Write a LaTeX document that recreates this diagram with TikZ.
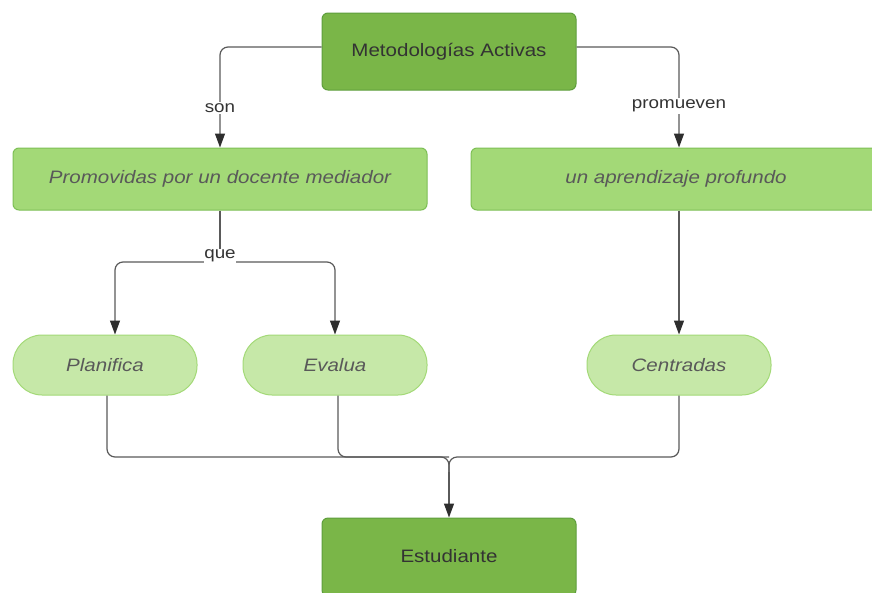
\documentclass[tikz,border=0pt]{standalone}
\usepackage{fontspec}
\setmainfont[FakeStretch=1.14]{Liberation Sans}
\usetikzlibrary{arrows.meta,calc}
\definecolor{dkgreen}{HTML}{7AB648}
\definecolor{dkborder}{HTML}{5E9E3C}
\definecolor{mdgreen}{HTML}{A3D977}
\definecolor{mdborder}{HTML}{7DBF55}
\definecolor{ltgreen}{HTML}{C6E8A8}
\definecolor{ltborder}{HTML}{A3D977}
\definecolor{linegray}{HTML}{5A5A5A}
\definecolor{tipgray}{HTML}{2E2E2E}
\definecolor{txtdark}{HTML}{333333}
\definecolor{txtgray}{HTML}{595959}
\tikzset{
  mainbox/.style={draw=dkborder, fill=dkgreen, line width=1pt, rounded corners=6pt,
    minimum width=254pt, minimum height=77pt, text=txtdark, font=\fontsize{18}{21}\selectfont},
  midbox/.style={draw=mdborder, fill=mdgreen, line width=1pt, rounded corners=6pt,
    minimum width=414pt, minimum height=62pt, text=txtgray, font=\fontsize{18}{21}\selectfont\itshape},
  pill/.style={draw=ltborder, fill=ltgreen, line width=1pt, rounded corners=29pt,
    minimum width=184pt, minimum height=60pt, text=txtgray, font=\fontsize{18}{21}\selectfont\itshape},
  conn/.style={draw=linegray, line width=1.2pt, rounded corners=8pt},
  arr/.style={conn, -{Triangle[length=14pt,width=10pt,color=tipgray]}},
  lbl/.style={fill=white, inner sep=1.5pt, text=txtdark, font=\fontsize{16.5}{19}\selectfont},
}
\begin{document}
\begin{tikzpicture}[x=1pt,y=-1pt]
\useasboundingbox (0,0) rectangle (872,592);
\clip (0,0) rectangle (872,592);
\fill[white] (0,0) rectangle (872,592);

% nodes
\node[mainbox] (top) at (449,51.5) {Metodologías Activas};
\node[midbox] (prom) at (220,179) {Promovidas por un docente mediador};
\node[midbox, minimum width=416pt] (apr) at (679,179) {\hspace*{-6pt}un aprendizaje profundo};
\node[pill] (plan) at (105,365) {Planifica};
\node[pill] (eval) at (335,365) {Evalua};
\node[pill] (cent) at (679,365) {Centradas};
\node[mainbox, minimum height=78pt] (est) at (449,557) {\raisebox{3pt}{Estudiante}};

% coordinates
\coordinate (q) at (220,262);
\coordinate (j) at (449,457);

% top connectors
\draw[arr] (top.west |- 0,47) -| (prom.north);
\draw[arr] (top.east |- 0,47) -| (apr.north);
\node[lbl] (son) at (220,108) {son};
\node[lbl] (prm) at (679,106) {promueven};

% que connectors
\draw[conn] (prom.south) -- (q);
\draw[arr] (q) -| ($(plan.north)+(10,0)$);
\draw[arr] (q) -| (eval.north);
\node[lbl, inner sep=0.5pt] (que) at (220,256) {que};

% right down
\draw[arr] (apr.south) -- (cent.north);

% merge
\draw[conn] ($(plan.south)+(2,0)$) |- (j) -- ($(j)+(0,20)$);
\draw[conn] ($(eval.south)+(3,0)$) |- (j);
\draw[conn] (cent.south) |- (j) -- ($(j)+(0,20)$);
\draw[arr] ($(j)+(0,15)$) -- (est.north);
\end{tikzpicture}
\end{document}
